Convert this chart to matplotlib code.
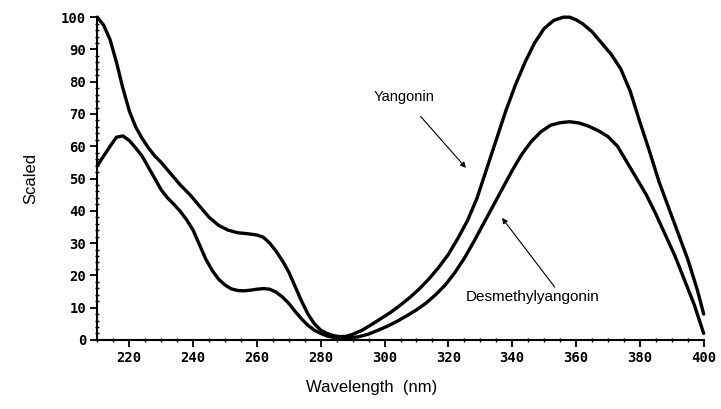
import numpy as np
import matplotlib
matplotlib.use('Agg')
import matplotlib.pyplot as plt
from matplotlib.ticker import MultipleLocator

# wavelength (nm) / scaled absorbance
yang_wl = [210, 212, 214, 216, 218, 220, 222, 224, 226, 228, 230, 233, 236, 239,
           242, 245, 248, 251, 254, 257, 260, 262, 264, 266, 268, 270, 272, 274,
           276, 278, 280, 282, 284, 286, 288, 290, 293, 296, 299, 302, 305, 308,
           311, 314, 317, 320, 323, 326, 329, 332, 335, 338, 341, 344, 347, 350,
           353, 356, 358, 360, 362, 365, 368, 371, 374, 377, 380, 383, 386, 389,
           392, 395, 398, 400]
yang_val = [100, 97.5, 93, 86, 78, 71, 66, 62.5, 59.5, 57, 55, 51.5, 48, 45,
            41.5, 38, 35.5, 34, 33.2, 32.9, 32.5, 31.8, 30, 27.5, 24.5, 21, 16.5, 12,
            8, 5, 3, 2, 1.3, 1, 1.1, 1.7, 3, 4.8, 6.7, 8.6, 10.8, 13.2,
            15.9, 19, 22.5, 26.5, 31.5, 37, 44, 53, 62, 71, 79, 86, 92, 96.5,
            99, 100, 100, 99.2, 98, 95.5, 92, 88.5, 84, 77, 67.5, 58.5, 49, 41,
            33, 25, 15.5, 8]

desm_wl = [210, 212, 214, 216, 218, 220, 222, 224, 226, 228, 230, 232, 234, 236,
           238, 240, 242, 244, 246, 248, 250, 252, 254, 256, 258, 260, 262, 264,
           266, 268, 270, 272, 274, 276, 278, 280, 282, 284, 286, 288, 290, 292,
           295, 298, 301, 304, 307, 310, 313, 316, 319, 322, 325, 328, 331, 334,
           337, 340, 343, 346, 349, 352, 355, 358, 361, 364, 367, 370, 373, 376,
           379, 382, 385, 388, 391, 394, 397, 400]
desm_val = [54, 57, 60, 62.8, 63.2, 61.8, 59.5, 57, 53.5, 50, 46.5, 44, 42, 39.8,
            37.2, 34, 29.5, 25, 21.5, 18.8, 17, 15.8, 15.3, 15.2, 15.4, 15.7, 15.9, 15.7,
            14.8, 13.3, 11.3, 8.8, 6.5, 4.5, 3, 2, 1.2, 0.8, 0.5, 0.5, 0.7, 1,
            1.8, 3, 4.3, 5.8, 7.5, 9.3, 11.4, 14, 17, 20.8, 25.3, 30.5, 36, 41.5,
            47, 52.5, 57.5, 61.5, 64.5, 66.5, 67.3, 67.6, 67.2, 66.2, 64.8, 63, 60, 55,
            50, 45, 39, 32.5, 26, 18.5, 11, 2]

x_ticks = list(range(220, 401, 20))
y_ticks = list(range(0, 101, 10))

fig = plt.figure(figsize=(7.21, 4.09), dpi=100)
ax = fig.add_axes([0.135, 0.169, 0.841, 0.789])

for wl, val in [(yang_wl, yang_val), (desm_wl, desm_val)]:
    ax.plot(wl, val, color='black', lw=2.4, clip_on=False,
            solid_capstyle='round', solid_joinstyle='round')

ax.set_xlim(210, 400)
ax.set_ylim(0, 100)
for s in ['top', 'right']:
    ax.spines[s].set_visible(False)
for s in ['left', 'bottom']:
    ax.spines[s].set_linewidth(1.5)

tick_font = dict(family='DejaVu Sans Mono', weight='bold', size=10)
ax.set_xticks(x_ticks)
ax.set_xticklabels([str(t) for t in x_ticks], fontdict=tick_font)
ax.set_yticks(y_ticks)
ax.set_yticklabels([str(t) for t in y_ticks], fontdict=tick_font)
ax.xaxis.set_minor_locator(MultipleLocator(5))
ax.yaxis.set_minor_locator(MultipleLocator(2))
ax.tick_params(which='major', direction='out', length=5, width=1.3, pad=3)
ax.tick_params(which='minor', direction='inout', length=3, width=1.0)

label_font = dict(family='Liberation Sans', size=12)
ax.set_xlabel('Wavelength  (nm)', fontdict=label_font, va='center')
ax.set_ylabel('Scaled', fontdict=label_font, va='center')
ax.xaxis.set_label_coords(0.453, -0.149)
ax.yaxis.set_label_coords(-0.110, 0.5)

ax.annotate('Yangonin', xy=(325.5, 53.3), xytext=(306, 75.2),
            ha='center', va='center', fontsize=10.5, family='Liberation Sans',
            arrowprops=dict(arrowstyle='-|>', lw=0.8, color='black',
                            mutation_scale=8, shrinkA=9, shrinkB=0))
ax.annotate('Desmethylyangonin', xy=(336.8, 37.8), xytext=(325.5, 13.3),
            ha='left', va='center', fontsize=11, family='Liberation Sans',
            arrowprops=dict(arrowstyle='-|>', lw=0.8, color='black',
                            mutation_scale=8, shrinkA=0, shrinkB=0,
                            relpos=(0.68, 1.0)))

fig.savefig('out.png', dpi=100)
